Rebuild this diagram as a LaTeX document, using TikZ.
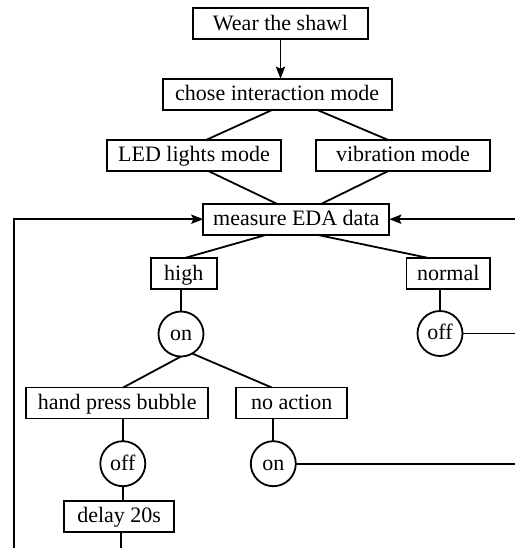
\documentclass[tikz,border=0pt]{standalone}
\usepackage{fontspec}
\setmainfont{Liberation Serif}
\usepackage{tikz}
\usetikzlibrary{arrows.meta}

\begin{document}
\begin{tikzpicture}[
	x=0.5pt, y=-0.5pt,
	line width=0.9pt,
	font=\fontsize{11}{13}\selectfont,
	every node/.style={text height=8pt, text depth=1.6pt},
	MyArrow/.style={-{Stealth[length=6pt, width=4.6pt, inset=1pt]}},
	MyBox/.style={draw, minimum width=#1, minimum height=15.5pt,
		inner sep=0pt, outer sep=0pt},
	MyCircle/.style={draw, circle, minimum size=22.5pt,
		inner sep=0pt, outer sep=0pt},
	]
	\useasboundingbox (0,0) rectangle (515,548);
	\coordinate (R) at (520,219.2);
	\coordinate (L) at (14,552);
	\coordinate (B) at (0,552);

	\node [MyBox=87.8pt] (wear) at (280.5,23.8) {Wear the shawl};
	\node [MyBox=114.5pt] (mode) at (277.2,94.2) {chose interaction mode};
	\node [MyBox=86.7pt] (led) at (194,155.5) {LED lights mode};
	\node [MyBox=87pt] (vib) at (403,155.5) {vibration mode};
	\node [MyBox=93pt] (eda) at (296.3,219.2) {measure EDA data};
	\node [MyBox=33pt] (high) at (183.7,273.8) {high};
	\node [MyBox=41.7pt] (normal) at (448.3,273.8) {normal};
	\node [MyCircle] (on1) at (181,334) {on};
	\node [MyCircle] (off1) at (440,333.5) {off};
	\node [MyBox=91.2pt] (hand) at (117.2,403) {hand press bubble};
	\node [MyBox=55.7pt] (noact) at (291.7,403) {no action};
	\node [MyCircle] (off2) at (122.8,463.7) {off};
	\node [MyCircle] (on2) at (273.3,463.7) {on};
	\node [MyBox=55.2pt] (delay) at (119.2,516.2) {delay 20s};

	\draw[MyArrow] (wear.south) -- (wear.south |- mode.north);%
	\draw ([xshift=-2.25pt]mode.south) -- ([xshift=6pt]led.north);%
	\draw ([xshift=19.75pt]mode.south) -- ([xshift=-7.35pt]vib.north);%
	\draw ([xshift=7.15pt]led.south) -- ([xshift=-9.8pt]eda.north);%
	\draw ([xshift=-7.35pt]vib.south) -- ([xshift=12.7pt]eda.north);%

	\draw[MyArrow] (L) |- (eda.west);%
	\draw[MyArrow] (R |- eda.east) -- (eda.east);%

	\draw ([xshift=-14.8pt]eda.south) -- (high.north);%
	\draw ([xshift=10.2pt]eda.south) -- ([xshift=-9.15pt]normal.north);%
	\draw (on1.north |- high.south) -- (on1.north);%
	\draw (off1.north |- normal.south) -- (off1.north);%
	\draw (off1.east) -- (off1.east -| R);%

	\draw (on1.south) -- ([xshift=3pt]hand.north);%
	\draw (on1.-60) -- ([xshift=-10pt]noact.north);%
	\draw (off2.north |- hand.south) -- (off2.north);%
	\draw (on2.north |- noact.south) -- (on2.north);%
	\draw (on2.east) -- (on2.east -| R);%
	\draw (off2.south) -- (off2.south |- delay.north);%
	\draw ([xshift=0.75pt]delay.south) -- ([xshift=0.75pt]delay.south |- B);%
\end{tikzpicture}
\end{document}
